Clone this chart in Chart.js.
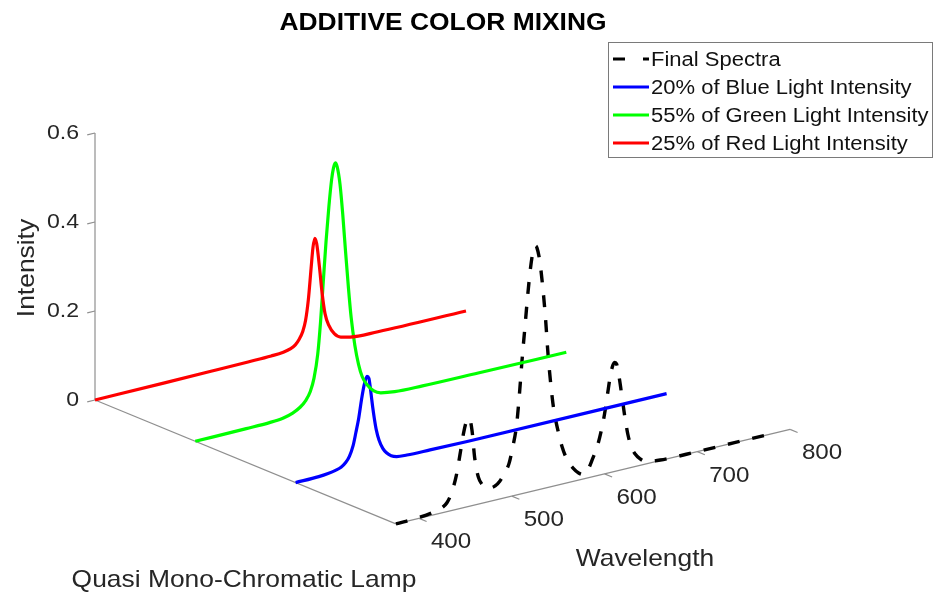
<!DOCTYPE html>
<html>
<head>
<meta charset="utf-8">
<script src="https://cdn.jsdelivr.net/npm/chart.js@4.4.0/dist/chart.umd.min.js"></script>
<style>
  body { margin: 0; background: #fff; }
  #wrap { width: 935px; height: 594px; }
</style>
</head>
<body>
<div id="wrap"><canvas id="myChart"></canvas></div>
<script>
// ticks
const wavelengthTicks = [400, 500, 600, 700, 800];
const intensityTicks = [0, 0.2, 0.4, 0.6];

// legend labels (plot order)
const seriesNames = [
  "Final Spectra",
  "20% of Blue Light Intensity",
  "55% of Green Light Intensity",
  "25% of Red Light Intensity",
];

// final spectra (front lamp row)
const finalWl = [375, 400, 415, 425, 430, 435, 440, 444, 448, 451, 454, 457, 460, 464, 468, 472, 477, 482, 487, 492, 497, 501, 505, 508, 511, 514, 517, 520, 523, 525, 527, 530, 533, 536, 539, 542, 545, 550, 554, 560, 566, 572, 577, 582, 587, 592, 596, 600, 603, 606, 609, 611, 613, 616, 619, 622, 625, 629, 633, 638, 645, 660, 700, 740, 775];
const finalVal = [0, 0.002, 0.006, 0.012, 0.02, 0.04, 0.075, 0.12, 0.168, 0.192, 0.198, 0.17, 0.105, 0.06, 0.042, 0.032, 0.03, 0.032, 0.04, 0.055, 0.075, 0.11, 0.155, 0.22, 0.3, 0.37, 0.44, 0.5, 0.54, 0.55, 0.545, 0.515, 0.46, 0.39, 0.3, 0.23, 0.175, 0.12, 0.085, 0.05, 0.03, 0.016, 0.01, 0.018, 0.04, 0.065, 0.095, 0.135, 0.175, 0.215, 0.24, 0.245, 0.24, 0.205, 0.16, 0.115, 0.077, 0.045, 0.028, 0.015, 0.005, 0.001, 0, 0, 0];

const blueWl = [375, 400, 410, 418, 424, 429, 433, 437, 440, 443, 446, 449, 452, 454, 456, 458, 460, 462, 465, 469, 473, 478, 484, 495, 520, 560, 775];
const blueVal = [0, 0.001, 0.003, 0.006, 0.01, 0.018, 0.03, 0.052, 0.08, 0.11, 0.15, 0.183, 0.2, 0.195, 0.165, 0.13, 0.1, 0.075, 0.05, 0.03, 0.018, 0.009, 0.004, 0.002, 0.001, 0, 0];

const greenWl = [375, 430, 455, 470, 480, 488, 494, 499, 503, 507, 510, 513, 516, 519, 522, 524, 526, 528, 531, 534, 537, 540, 543, 547, 551, 555, 560, 567, 575, 590, 620, 680, 775];
const greenVal = [0, 0.001, 0.002, 0.005, 0.011, 0.02, 0.032, 0.05, 0.078, 0.13, 0.2, 0.29, 0.38, 0.455, 0.515, 0.54, 0.55, 0.54, 0.5, 0.43, 0.345, 0.265, 0.195, 0.13, 0.085, 0.055, 0.035, 0.018, 0.009, 0.004, 0.002, 0.001, 0];

const redWl = [375, 450, 500, 540, 565, 578, 586, 591, 595, 599, 602, 605, 608, 610, 612, 614, 617, 620, 623, 627, 633, 640, 650, 680, 775];
const redVal = [0, 0.001, 0.002, 0.003, 0.004, 0.006, 0.01, 0.016, 0.026, 0.042, 0.065, 0.11, 0.18, 0.225, 0.245, 0.232, 0.178, 0.115, 0.07, 0.042, 0.02, 0.009, 0.004, 0.001, 0];

// view of the 3d box (screen units of the hidden linear scales)
const W_MIN = 375, W_MAX = 800, Z_MAX = 0.6;
function project(w, lamp, z) {
  return {
    x: 95 + 0.9275 * (w - W_MIN) + 100.3 * lamp,
    y: 400 - 0.2225 * (w - W_MIN) + 41.3 * lamp - 445 * z,
  };
}

function toPoints(wl, val, lamp) {
  return wl.map((w, i) => project(w, lamp, val[i]));
}

const TEXT = "#262626";
const AXIS = "#8f8f8f";
const FONT = "'Liberation Sans', Arial, sans-serif";

function wideText(ctx, txt, x, y, align, font, rot, color) {
  ctx.save();
  ctx.translate(x, y);
  if (rot) ctx.rotate(rot);
  ctx.scale(1.1, 1);
  ctx.font = font;
  ctx.textAlign = align;
  ctx.fillStyle = color || TEXT;
  ctx.fillText(txt, 0, 0);
  ctx.restore();
}

const axes3d = {
  id: "axes3d",
  beforeDatasetsDraw(chart) {
    const { ctx, scales } = chart;
    const px = (p) => [scales.x.getPixelForValue(p.x), scales.y.getPixelForValue(p.y)];
    const seg = (a, b) => {
      ctx.beginPath();
      ctx.moveTo(...px(a));
      ctx.lineTo(...px(b));
      ctx.stroke();
    };
    ctx.save();
    ctx.strokeStyle = AXIS;
    ctx.lineWidth = 1.2;
    seg(project(W_MIN, 0, 0), project(W_MIN, 0, Z_MAX));
    seg(project(W_MIN, 0, 0), project(W_MIN, 3, 0));
    seg(project(W_MIN, 3, 0), project(W_MAX, 3, 0));
    intensityTicks.forEach((z) => seg(project(W_MIN, 0, z), project(W_MIN - 8.4, 0, z)));
    wavelengthTicks.forEach((w) => seg(project(w, 3, 0), project(w, 3.075, 0)));
    ctx.restore();
  },
  afterDraw(chart) {
    const { ctx, scales } = chart;
    const px = (p) => [scales.x.getPixelForValue(p.x), scales.y.getPixelForValue(p.y)];
    ctx.save();
    ctx.textBaseline = "middle";
    intensityTicks.forEach((z) => {
      const [x, y] = px(project(W_MIN, 0, z));
      wideText(ctx, String(z), x - 16, y, "right", "21px " + FONT);
    });
    wavelengthTicks.forEach((w) => {
      const [x, y] = px(project(w, 3, 0));
      wideText(ctx, String(w), x + 32, y + 24, "center", "22px " + FONT);
    });
    ctx.textBaseline = "alphabetic";
    wideText(ctx, "ADDITIVE COLOR MIXING", 443, 30, "center", "bold 24px " + FONT, 0, "#000");
    wideText(ctx, "Quasi Mono-Chromatic Lamp", 244, 587, "center", "24px " + FONT);
    wideText(ctx, "Wavelength", 645, 566, "center", "24px " + FONT);
    ctx.textBaseline = "middle";
    wideText(ctx, "Intensity", 27, 268, "center", "24px " + FONT, -Math.PI / 2);

    // legend
    ctx.strokeStyle = "#7a7a7a";
    ctx.lineWidth = 1;
    ctx.strokeRect(608.5, 42.5, 324, 115);
    chart.data.datasets.forEach((ds, i) => {
      const y = 59 + i * 28;
      ctx.strokeStyle = ds.borderColor;
      ctx.lineWidth = 3;
      ctx.setLineDash(ds.borderDash && ds.borderDash.length ? [12, 18] : []);
      ctx.beginPath();
      ctx.moveTo(613, y);
      ctx.lineTo(649, y);
      ctx.stroke();
      ctx.setLineDash([]);
      wideText(ctx, ds.label, 651, y + 1, "left", "20px " + FONT, 0, "#111");
    });
    ctx.restore();
  },
};

const ctx = document.getElementById("myChart").getContext("2d");
new Chart(ctx, {
  type: "scatter",
  data: {
    datasets: [
      { label: seriesNames[0], data: toPoints(finalWl, finalVal, 3), borderColor: "#000000", borderDash: [12, 13], borderWidth: 3.4, order: 3 },
      { label: seriesNames[1], data: toPoints(blueWl, blueVal, 2), borderColor: "#0000ff", order: 2 },
      { label: seriesNames[2], data: toPoints(greenWl, greenVal, 1), borderColor: "#00ff00", order: 1 },
      { label: seriesNames[3], data: toPoints(redWl, redVal, 0), borderColor: "#ff0000", order: 0 },
    ],
  },
  options: {
    responsive: true,
    maintainAspectRatio: false,
    animation: false,
    layout: { padding: 0 },
    elements: {
      line: { borderWidth: 3.2, cubicInterpolationMode: "monotone", fill: false },
      point: { radius: 0, hoverRadius: 0 },
    },
    datasets: { scatter: { showLine: true } },
    plugins: {
      legend: { display: false },
      tooltip: { enabled: false },
    },
    scales: {
      x: { type: "linear", min: 0, max: 935, display: false },
      y: { type: "linear", min: 0, max: 594, reverse: true, display: false },
    },
  },
  plugins: [axes3d],
});
</script>
</body>
</html>
